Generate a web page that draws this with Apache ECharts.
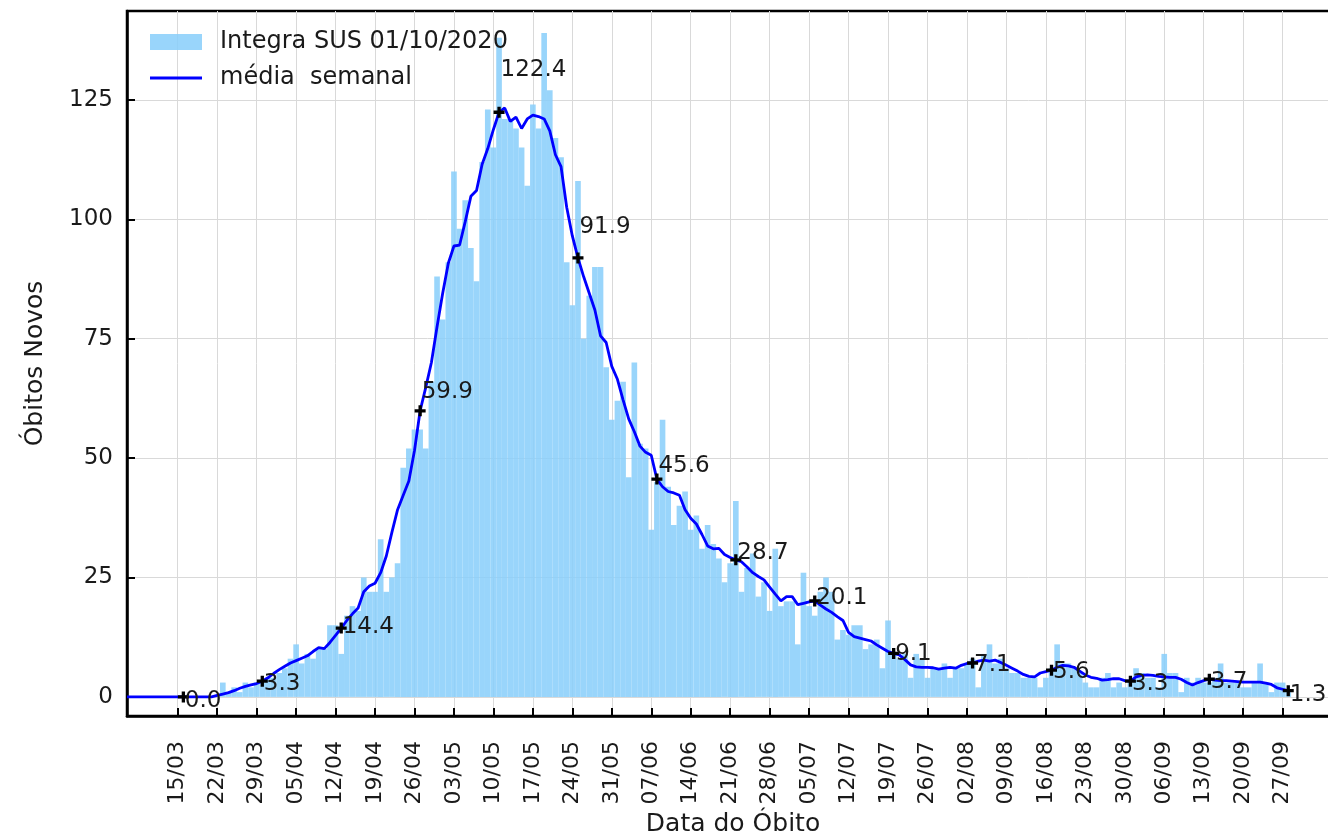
<!DOCTYPE html>
<html>
<head>
<meta charset="utf-8">
<script src="https://cdn.jsdelivr.net/npm/echarts@6/dist/echarts.min.js"></script>
<style>
  html, body { margin: 0; padding: 0; background: #fff; }
  #chart { width: 1328px; height: 832px; }
</style>
</head>
<body>
<div id="chart"></div>
<script>
// first day on the axis and how many days it spans
const firstDay = '2020-03-06';
const dayCount = 216;

// weekly tick labels (Sundays)
const tickLabels = ['15/03', '22/03', '29/03', '05/04', '12/04', '19/04', '26/04', '03/05', '10/05',
  '17/05', '24/05', '31/05', '07/06', '14/06', '21/06', '28/06', '05/07', '12/07', '19/07', '26/07',
  '02/08', '09/08', '16/08', '23/08', '30/08', '06/09', '13/09', '20/09', '27/09'];

// daily deaths, from 06/03
const dailyDeaths = [
  0, 0, 0, 0, 0, 0, 0, 0, 0, 0, 0, 0, 0, 0, 0, 0, 0,
  3, 1, 2, 1, 3, 2, 3, 3, 4, 4,
  5, 6, 8, 11, 7, 9, 8, 10, 10, 15,
  15, 9, 17, 19, 18, 25, 22, 22, 33, 22,
  25, 28, 48, 52, 56, 56, 52, 66, 88, 79,
  91, 110, 98, 104, 94, 87, 112, 123, 115, 138,
  121, 121, 119, 115, 107, 124, 119, 139, 127, 117,
  113, 91, 82, 108, 75, 84, 90, 90, 69, 58,
  62, 66, 46, 70, 53, 52, 35, 45, 58, 44,
  36, 40, 43, 35, 38, 31, 36, 32, 29, 24,
  28, 41, 22, 27, 30, 21, 24, 18, 31, 19,
  20, 20, 11, 26, 19, 17, 22, 25, 22, 12,
  14, 13, 15, 15, 10, 11, 12, 6, 16, 9,
  8, 9, 4, 9, 8, 4, 6, 6, 7, 4,
  6, 6, 7, 8, 2, 9, 11, 7, 8, 6,
  5, 5, 4, 4, 4, 2, 4, 6, 11, 7,
  7, 6, 5, 3, 2, 2, 4, 5, 2, 3,
  2, 3, 6, 5, 4, 4, 2, 9, 5, 5,
  1, 4, 3, 4, 3, 3, 4, 7, 3, 3,
  3, 2, 2, 3, 7, 3, 1, 3, 3, 1
];

// 7-day mean, from 06/03
const weeklyMean = [
  0, 0, 0, 0, 0, 0, 0, 0, 0, 0, 0, 0, 0, 0, 0, 0,
  0.3, 0.6, 0.9, 1.3, 1.8, 2.2, 2.5, 2.8, 3.3, 4.0,
  4.9, 5.7, 6.4, 7.1, 7.6, 8.1, 8.6, 9.5, 10.3, 10.1,
  11.4, 12.9, 14.4, 16.0, 17.4, 18.6, 22.0, 23.2, 23.8, 26.0,
  29.5, 34.5, 39.2, 42.2, 45.2, 51.6, 59.9, 64.8, 70.0, 77.5,
  84.5, 90.8, 94.4, 94.6, 99.5, 104.8, 106.0, 111.5, 114.8, 118.8,
  122.4, 123.3, 120.5, 121.4, 119.0, 121.0, 121.8, 121.5, 121.0, 118.5,
  113.5, 111.0, 102.5, 96.5, 91.9, 88.0, 84.5, 81.0, 75.6, 74.2,
  69.2, 66.5, 62.2, 58.2, 55.5, 52.5, 51.2, 50.6, 45.6, 44.0,
  43.0, 42.7, 42.2, 39.2, 37.4, 36.2, 34.0, 31.6, 31.0, 31.1,
  29.8, 29.2, 28.7, 28.3, 27.2, 26.0, 25.2, 24.5, 23.0, 21.5,
  20.1, 21.0, 21.0, 19.3, 19.6, 19.9, 20.1, 19.2, 18.4, 17.7,
  16.8, 16.0, 13.5, 12.6, 12.3, 12.0, 11.7, 10.9, 10.2, 9.5,
  9.1, 8.8, 7.8, 6.7, 6.3, 6.2, 6.2, 6.1, 5.8, 6.0,
  6.2, 6.0, 6.6, 7.0, 7.1, 7.5, 7.7, 7.5, 7.7, 7.2,
  6.6, 6.0, 5.4, 4.7, 4.3, 4.2, 5.0, 5.3, 5.6, 6.2,
  6.6, 6.5, 6.2, 5.4, 4.6, 4.1, 3.9, 3.5, 3.6, 3.8,
  3.8, 3.4, 3.3, 4.2, 4.5, 4.6, 4.5, 4.3, 4.2, 4.1,
  4.1, 3.7, 3.0, 2.5, 3.0, 3.4, 3.7, 3.5, 3.4, 3.4,
  3.3, 3.2, 3.1, 3.1, 3.1, 3.1, 2.9, 2.6, 1.9, 1.6,
  1.3
];

// days where the mean is marked and printed
const markedDays = ['16/03', '30/03', '13/04', '27/04', '11/05', '25/05', '08/06', '22/06',
  '06/07', '20/07', '03/08', '17/08', '31/08', '14/09', '28/09'];

const yTicks = [0, 25, 50, 75, 100, 125];

const font = 'DejaVu Sans';
const textColor = '#1a1a1a';

const days = [];
const t0 = Date.parse(firstDay + 'T00:00:00Z');
for (let i = 0; i < dayCount; i++) {
  const d = new Date(t0 + i * 86400000);
  days.push(String(d.getUTCDate()).padStart(2, '0') + '/' + String(d.getUTCMonth() + 1).padStart(2, '0'));
}

const isTick = (i, v) => tickLabels.includes(v);

const marks = markedDays.map((lbl) => {
  const i = days.indexOf(lbl);
  return [i, weeklyMean[i]];
});
const markTexts = markedDays.map((lbl) => {
  const i = days.indexOf(lbl);
  return { value: [i, weeklyMean[i] * 1.08], text: weeklyMean[i].toFixed(1) };
});

const chart = echarts.init(document.getElementById('chart'));

const option = {
  animation: false,
  textStyle: { fontFamily: font },
  grid: {
    left: 127, right: -11, top: 11, bottom: 116,
    outerBoundsMode: 'none',
    show: true, borderColor: '#000', borderWidth: 2.5
  },
  legend: {
    orient: 'vertical',
    left: 145, top: 25,
    itemWidth: 52, itemHeight: 16, itemGap: 12,
    textStyle: { fontSize: 24, color: textColor, fontFamily: font, padding: [0, 0, 0, 13] },
    data: [
      { name: 'Integra SUS 01/10/2020', icon: 'rect' },
      { name: 'média  semanal', icon: 'path://M0,0H52V3H0Z' }
    ]
  },
  xAxis: {
    type: 'category',
    data: days,
    boundaryGap: false,
    name: 'Data do Óbito',
    nameLocation: 'middle',
    nameGap: 93,
    nameTextStyle: { fontSize: 25, color: textColor, fontFamily: font },
    axisLine: { onZero: false, lineStyle: { color: '#000', width: 2.5 } },
    axisTick: { inside: true, length: 8, interval: isTick, lineStyle: { color: '#000', width: 2 } },
    axisLabel: { interval: isTick, rotate: 90, fontSize: 22, margin: 25, color: textColor, fontFamily: font },
    splitLine: { show: true, interval: isTick, lineStyle: { color: '#d9d9d9', width: 1 } }
  },
  yAxis: {
    type: 'value',
    min: -4,
    max: 143.6,
    name: 'Óbitos Novos',
    nameLocation: 'middle',
    nameGap: 79,
    nameTextStyle: { fontSize: 25, color: textColor, fontFamily: font },
    axisLine: { show: true, lineStyle: { color: '#000', width: 2.5 } },
    axisTick: { show: true, inside: true, length: 8, customValues: yTicks, lineStyle: { color: '#000', width: 2 } },
    axisLabel: { customValues: yTicks, fontSize: 23, margin: 14, color: textColor, fontFamily: font },
    splitLine: { show: true, lineStyle: { color: '#d9d9d9', width: 1 } }
  },
  series: [
    {
      name: 'Integra SUS 01/10/2020',
      type: 'bar',
      data: dailyDeaths,
      barCategoryGap: '0%',
      itemStyle: { color: 'rgba(135, 206, 250, 0.85)' },
      z: 1
    },
    {
      name: 'média  semanal',
      type: 'line',
      data: weeklyMean,
      symbol: 'none',
      lineStyle: { color: '#0000ff', width: 2.8 },
      itemStyle: { color: '#0000ff' },
      z: 3
    },
    {
      type: 'scatter',
      data: marks,
      symbol: 'path://M3.5,0H6.5V3.5H10V6.5H6.5V10H3.5V6.5H0V3.5H3.5Z',
      symbolSize: 11,
      itemStyle: { color: '#000', opacity: 1 },
      silent: true,
      z: 4
    },
    {
      type: 'scatter',
      data: markTexts,
      symbolSize: 1,
      itemStyle: { color: 'rgba(0,0,0,0)', opacity: 1 },
      silent: true,
      label: {
        show: true,
        position: [0, 0],
        offset: [2, 5],
        align: 'left',
        verticalAlign: 'middle',
        fontSize: 23,
        color: textColor,
        textBorderWidth: 0,
        fontFamily: font,
        formatter: (p) => p.data.text
      },
      z: 5
    }
  ]
};

chart.setOption(option);
</script>
</body>
</html>
